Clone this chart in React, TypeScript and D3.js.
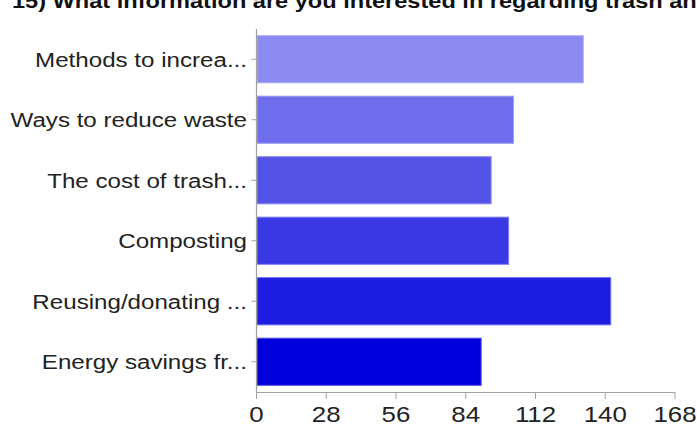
import React, { useEffect, useRef } from 'react';
import * as d3 from 'd3';

const categories = [
  'Methods to increa...',
  'Ways to reduce waste',
  'The cost of trash...',
  'Composting',
  'Reusing/donating ...',
  'Energy savings fr...',
];
const counts = [131, 103, 94, 101, 142, 90];
const barColors = ['#8a8af0', '#6e6eec', '#5353e8', '#3838e5', '#1d1de1', '#0000dd'];
const xTicks = [0, 28, 56, 84, 112, 140, 168];
const title = '15) What information are you interested in regarding trash and recycling?';

const App: React.FC = () => {
  const svgRef = useRef<SVGSVGElement | null>(null);

  useEffect(() => {
    const W = 697;
    const H = 424;
    const svg = d3.select(svgRef.current).attr('width', W).attr('height', H);
    svg.selectAll('*').remove();

    const font = 'Liberation Sans, Arial, Helvetica, sans-serif';
    const axisColor = '#a0a0a0';
    const stretch = 1.15; // text in the reference is a bit wide

    const x = d3.scaleLinear().domain([0, 168]).range([256.5, 675]);
    const y = d3.scaleBand().domain(categories).range([29, 392]).paddingInner(0.22).paddingOuter(0.11);

    // title
    svg.append('text')
      .attr('transform', `translate(12,8) scale(${stretch},1)`)
      .attr('font-family', font)
      .attr('font-weight', 'bold')
      .attr('font-size', 20.5)
      .attr('fill', '#111')
      .text(title);

    // bars
    svg.selectAll('.bar')
      .data(categories)
      .enter()
      .append('rect')
      .attr('class', 'bar')
      .attr('x', x(0) + 0.5)
      .attr('y', d => y(d) as number)
      .attr('width', (d, i) => x(counts[i]) - x(0))
      .attr('height', y.bandwidth())
      .attr('fill', (d, i) => barColors[i])
      .attr('stroke', (d, i) => d3.interpolateRgb(barColors[i], '#ffffff')(0.35))
      .attr('stroke-width', 1);

    // y axis
    svg.append('line')
      .attr('x1', x(0)).attr('x2', x(0))
      .attr('y1', 29).attr('y2', 393)
      .attr('stroke', axisColor).attr('stroke-width', 1.2);

    categories.forEach(c => {
      const cy = (y(c) as number) + y.bandwidth() / 2;
      svg.append('line')
        .attr('x1', x(0) - 5).attr('x2', x(0))
        .attr('y1', cy).attr('y2', cy)
        .attr('stroke', axisColor);
      svg.append('text')
        .attr('transform', `translate(247,${cy + 7.5}) scale(${stretch},1)`)
        .attr('text-anchor', 'end')
        .attr('font-family', font)
        .attr('font-size', 21)
        .attr('fill', '#222')
        .text(c);
    });

    // x axis
    svg.append('line')
      .attr('x1', x(0)).attr('x2', x(168))
      .attr('y1', 392.5).attr('y2', 392.5)
      .attr('stroke', axisColor).attr('stroke-width', 1.2);

    xTicks.forEach(t => {
      svg.append('line')
        .attr('x1', x(t)).attr('x2', x(t))
        .attr('y1', 392.5).attr('y2', 399)
        .attr('stroke', axisColor);
      svg.append('text')
        .attr('transform', `translate(${x(t)},422) scale(${stretch},1)`)
        .attr('text-anchor', 'middle')
        .attr('font-family', font)
        .attr('font-size', 22.5)
        .attr('fill', '#222')
        .text(t);
    });
  }, []);

  return (
    <div style={{ position: 'absolute', left: 0, top: 0, background: 'white' }}>
      <svg ref={svgRef} style={{ display: 'block' }}></svg>
    </div>
  );
};

export default App;
